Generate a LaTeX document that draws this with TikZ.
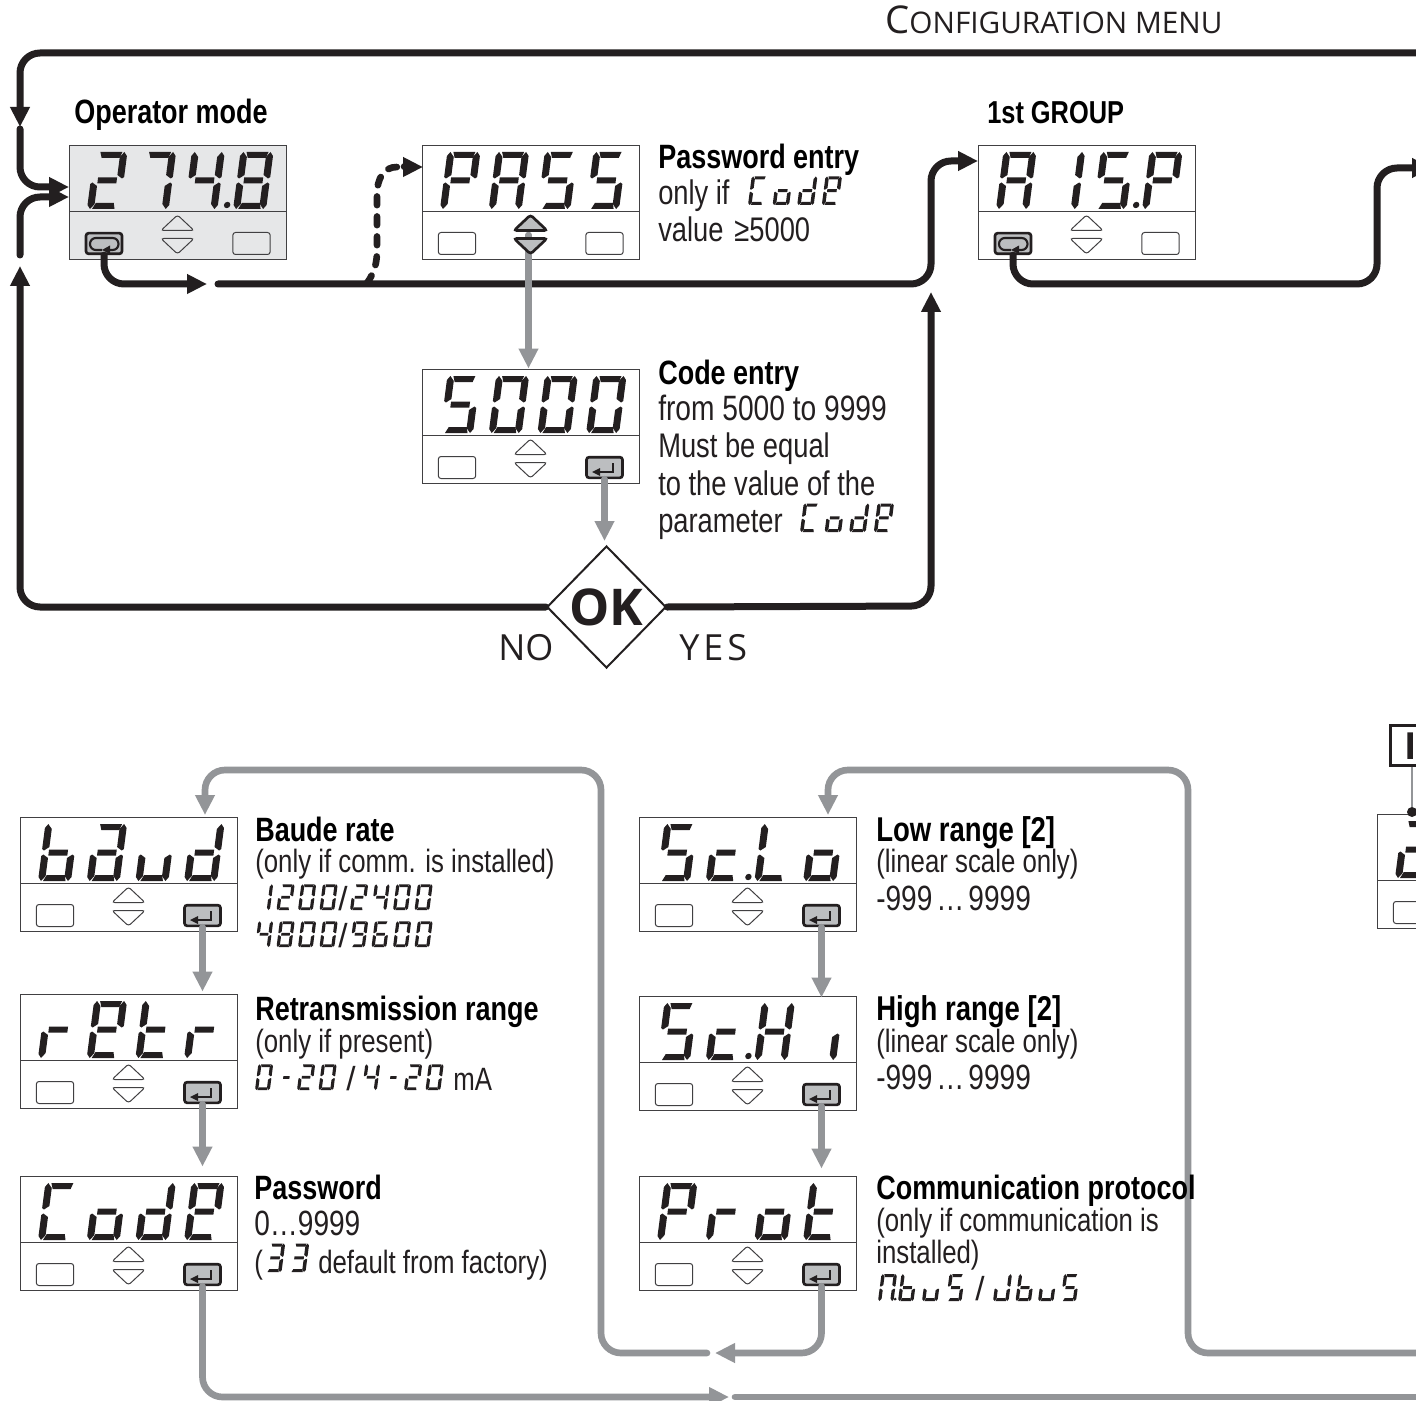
\documentclass[tikz,border=0pt]{standalone}
\usepackage{fontspec}
\setmainfont[FakeStretch=0.8]{Liberation Sans}
\newfontfamily\plainface{Liberation Sans}
\newfontfamily\wideface{Open Sans}
\usetikzlibrary{arrows.meta,shapes.geometric,calc}
\definecolor{lcdgrey}{HTML}{E6E7E8}
\definecolor{keygrey}{HTML}{BCBEC0}
\definecolor{flowgrey}{HTML}{939598}
\definecolor{ink}{HTML}{231F20}
\definecolor{edge}{HTML}{414042}
\def\lcdsega{(6,-57)--(28,-57)--(26,-51)--(8,-51)--cycle}
\def\lcdsegd{(5,0)--(27.5,0)--(26,-6)--(8,-6)--cycle}
\def\lcdsegg{(7,-25.5)--(26,-25.5)--(26,-31.5)--(7,-31.5)--cycle}
\def\lcdsegh{(8,-25)--(22,-25)--(22,-31)--(8,-31)--cycle}
\def\lcdsegf{(0,-32)--(0,-53)--(3,-57)--(7,-52)--(7,-34)--(2,-30.5)--cycle}
\def\lcdsegb{(33,-32)--(33,-53)--(30,-57)--(26,-52)--(26,-34)--(31,-30.5)--cycle}
\def\lcdsege{(0,-25)--(0,-4)--(3,0)--(7,-5)--(7,-23)--(2,-26.5)--cycle}
\def\lcdsegc{(33,-25)--(33,-4)--(30,0)--(26,-5)--(26,-23)--(31,-26.5)--cycle}
\def\lcdsegp{(-6.5,-4) circle (3.2)}
\makeatletter
\newcommand\lcdsegs[1]{\@tfor\lcds:=#1\do{\expandafter\fill\csname lcdseg\lcds\endcsname;}}
\makeatother
% row of equally spaced glyphs: x, y (bottom line), scale, pitch, glyphs
\newcommand\lcdrow[5]{%
  \foreach \g [count=\i from 0] in {#5}{%
    \begin{scope}[shift={(#1+\i*#4,#2)},xslant=.13,scale=#3,ink]
      \expandafter\lcdsegs\expandafter{\g}
    \end{scope}}}
\newcommand\keyarrows[5]{%
  \draw[fill=#3,draw=#4,line width=#5,rounded corners=2pt]
    (#1+92,#2+85.5) -- (#1+108.5,#2+70) -- (#1+125,#2+85.5) -- cycle;
  \draw[fill=#3,draw=#4,line width=#5,rounded corners=2pt]
    (#1+92,#2+93.5) -- (#1+108.5,#2+109) -- (#1+125,#2+93.5) -- cycle;}
% panel: name, x, y, background, left key (0/1), arrows pressed (0/1), right key (0/1)
\newcommand\panel[7]{%
  \node[panelbox,fill=#4] (#1) at (#2+108.5,#3+57) {};
  \draw[edge,line width=.7pt] (#2,#3+66.5) -- (#2+217,#3+66.5);
  \ifnum#5=1
    \node[keyon] (#1-l) at (#2+35,#3+98.5) {};
    \draw[ink,line width=1.6pt,rounded corners=4.4pt] (#2+33,#3+105) -- (#2+21,#3+105) -- (#2+21,#3+93) -- (#2+49.5,#3+93) -- (#2+49.5,#3+105) -- (#2+39,#3+105);
    \fill[ink] (#2+33,#3+105) -- (#2+41,#3+100.5) -- (#2+41,#3+109) -- cycle;
  \else
    \node[keyoff] (#1-l) at (#2+35,#3+98.5) {};
  \fi
  \ifnum#7=1
    \node[keyon] (#1-r) at (#2+182.5,#3+98.5) {};
    \draw[ink,line width=1.75pt] (#2+191,#3+94) -- (#2+191,#3+103) -- (#2+176,#3+103);
    \fill[ink] (#2+170,#3+103) -- (#2+178,#3+99) -- (#2+178,#3+107) -- cycle;
  \else
    \node[keyoff] (#1-r) at (#2+182.5,#3+98.5) {};
  \fi
  \coordinate (#1-k) at (#2+108.5,#3+90);
  \ifnum#6=0
    \keyarrows{#2}{#3}{#4}{edge}{0.75pt}
  \fi}
\newcommand\lab[5]{\node[#4,anchor=base west,inner sep=0pt] (#1) at (#2,#3) {#5};}
\tikzset{
  x=0.75pt,y=-0.75pt,
  panelbox/.style={draw=edge,line width=.7pt,minimum width=162.75pt,minimum height=85.5pt,inner sep=0pt},
  keyoff/.style={draw=edge,line width=.75pt,rounded corners=2pt,minimum width=28pt,minimum height=16.5pt,inner sep=0pt},
  keyon/.style={draw=ink,fill=keygrey,line width=2pt,rounded corners=2pt,minimum width=27pt,minimum height=15.5pt,inner sep=0pt},
  blk/.style={draw=ink,line width=5.25pt,line cap=round,rounded corners=15pt},
  gry/.style={draw=flowgrey,line width=5pt,line cap=round,rounded corners=15pt},
  tip/.style={-{Triangle[length=15pt,width=14pt]}},
  bodyhi/.style={font=\fontsize{25.6}{28}\selectfont,text=ink},
  body/.style={font=\fontsize{24.2}{27}\selectfont,text=ink},
  nums/.style={font=\fontsize{26.3}{28}\selectfont,text=ink},
  head/.style={font=\fontsize{25.3}{28}\selectfont\bfseries,text=black},
  wide/.style={font=\fontsize{28.7}{30}\selectfont\wideface,text=ink},
  slashmark/.style={font=\fontsize{25}{28}\selectfont\plainface,text=ink},
}
\begin{document}
\begin{tikzpicture}
\clip (0,0) rectangle (1416,1401);
\fill[white] (0,0) rectangle (1416,1401);

% panels
\panel{op}{69}{145}{lcdgrey}{1}{0}{0}
\panel{pass}{422}{145}{white}{0}{1}{0}
\panel{code}{422}{369}{white}{0}{0}{1}
\panel{aisp}{978}{145}{white}{1}{0}{0}
\panel{baud}{20}{817}{white}{0}{0}{1}
\panel{retr}{20}{994}{white}{0}{0}{1}
\panel{pwd}{20}{1176}{white}{0}{0}{1}
\panel{sclo}{639}{817}{white}{0}{0}{1}
\panel{schi}{639}{996}{white}{0}{0}{1}
\panel{prot}{639}{1176}{white}{0}{0}{1}
\panel{clip}{1377}{814}{white}{0}{0}{0}

% display glyphs
\lcdrow{87}{209}{1}{48.7}{abged,abc,fgbc,abcdefgp}
\lcdrow{440}{209}{1}{48.7}{abefg,abcefg,afgcd,afgcd}
\lcdrow{440}{433}{1}{48.7}{afgcd,abcdef,abcdef,abcdef}
\lcdrow{996}{209}{1}{48.7}{abcefg,bc,afgcd,abefgp}
\lcdrow{38}{881}{1}{48.7}{cdefg,abcdeg,cde,bcdeg}
\lcdrow{38}{1058}{1}{48.7}{eg,abdefg,defg,eg}
\lcdrow{38}{1240}{1}{48.7}{adef,cdeg,bcdeg,abdefg}
\lcdrow{657}{881}{1}{48.7}{afgcd,deg,defp,cdeg}
\lcdrow{657}{1060}{1}{48.7}{afgcd,deg,bcefgp,c}
\lcdrow{657}{1240}{1}{48.7}{abefg,eg,cdeg,defg}
\lcdrow{1395}{878}{1}{48.7}{abged}

% connectors
\coordinate (topR) at (1430,53);
\coordinate (topL) at (20,53);
\coordinate (topS) at (20,127);
\coordinate (topB) at (20,129);
\coordinate (opIn1) at (69,187);
\coordinate (retS) at (20,255);
\coordinate (opIn2) at (69,197);
\coordinate (noUp) at (20,266);
\coordinate (noC) at (20,607);
\coordinate (gapA) at (207,284);
\coordinate (gapB) at (218,284);
\coordinate (bend1) at (931,284);
\coordinate (aispIn) at (978,161);
\coordinate (yesC) at (931,606);
\coordinate (yesT) at (931,292);
\coordinate (aispBend) at (1377,284);
\coordinate (rightOut) at (1432,168);
\coordinate (dashS) at (367,283);
\coordinate (dashA) at (377,250);
\coordinate (dashB) at (377,195);
\coordinate (dashE) at (397,167);
\coordinate (dashH) at (406,167);
\coordinate (passIn) at (423,167);

\node[diamond,draw=ink,line width=1.5pt,shape aspect=1,minimum width=89.5pt,minimum height=91.5pt,inner sep=0pt,font=\fontsize{38}{40}\selectfont\wideface\bfseries,text=ink] (ok) at (606.5,607) {OK};

\draw[blk,tip] (topR) -- (topL) -- (topS);
\draw[blk,tip] (topB) |- (opIn1);
\draw[blk,tip] (retS) |- (opIn2);
\draw[blk,tip] (ok.west) -- (noC) -- (noUp);
\draw[blk,tip] (ok.east) -- (yesC) -- (yesT);
\draw[blk,tip] (op-l.south) |- (gapA);
\draw[blk,tip] (gapB) -- (bend1) |- (aispIn);
\draw[blk,tip] (aisp-l.south) |- (aispBend) |- (rightOut);
\draw[draw=ink,line width=5pt,line cap=round,dash pattern=on 6.5pt off 8.5pt]
  (dashS) .. controls (375,272) and (377,262) .. (dashA) -- (dashB) .. controls (377,178) and (384,167) .. (dashE);
\draw[blk,tip] (dashH) -- (passIn);

\draw[gry,tip,rounded corners=0pt] ([xshift=-1.5pt]pass-k) -- ([xshift=-1.5pt]pass-k |- code.north);
\keyarrows{422}{145}{keygrey}{ink}{2pt}
\draw[gry,tip] (code-r.south) -- ([yshift=3pt]ok.north -| code-r.south);
\draw[gry,tip] (baud-r.south) -- ([yshift=1.5pt]retr.north -| baud-r.south);
\draw[gry,tip] (retr-r.south) -- ([yshift=6.75pt]pwd.north -| retr-r.south);
\draw[gry,tip] (sclo-r.south) -- ([yshift=-1.5pt]schi.north -| sclo-r.south);
\draw[gry,tip] (schi-r.south) -- ([yshift=5.25pt]prot.north -| schi-r.south);

\coordinate (l1E) at (707,1353);
\coordinate (l1C) at (601,1353);
\coordinate (l1T) at (601,770);
\coordinate (l1A) at (205,770);
\coordinate (l1H) at (205,815);
\coordinate (p1T) at (715,1353);
\coordinate (l2R) at (1430,1353);
\coordinate (l2C) at (1188,1353);
\coordinate (l2T) at (1188,770);
\coordinate (l2A) at (828,770);
\coordinate (l2H) at (828,815);
\coordinate (b1T) at (729,1397);
\coordinate (b2S) at (735,1397);
\coordinate (b2R) at (1430,1397);
\draw[gry,tip] (l1E) -- (l1C) -- (l1T) -- (l1A) -- (l1H);
\draw[gry,tip] (l2R) -- (l2C) -- (l2T) -- (l2A) -- (l2H);
\draw[gry,tip] (prot-r.south) |- (p1T);
\draw[gry,tip] (pwd-r.south) |- (b1T);
\draw[gry] (b2S) -- (b2R);

% clipped box at the right edge
\node[draw=ink,line width=2.25pt,minimum width=46pt,minimum height=30.5pt,inner sep=0pt,fill=white] (ibox) at (1421,745.5) {};
\node[circle,fill=ink,minimum size=7.5pt,inner sep=0pt] (idot) at (1412,812) {};
\draw[flowgrey,line width=1.5pt] (ibox.south -| idot) -- (idot);
\node[font=\fontsize{28}{30}\selectfont\bfseries\wideface,text=ink,inner sep=0pt,anchor=base] (iletter) at (1411,759) {I};

% captions
\node[wide,anchor=base west,inner sep=0pt] (title) at (885,34) {C{\fontsize{22.3}{24}\selectfont ONFIGURATION MENU}};
\lab{tOp}{74}{124}{head}{Operator mode}
\lab{tGroup}{987}{124}{head,font=\fontsize{23.8}{28}\selectfont\bfseries}{1st GROUP}
\lab{tPw}{658}{169}{head}{Password entry}
\lab{tPwA}{658}{205}{bodyhi}{only if}
\lab{tPwB}{658}{242}{bodyhi}{value\kern2.5pt{} ≥5000}
\lcdrow{748}{205}{.5}{24.6}{adef,cdeg,bcdeg,abdefg}
\lab{tCe}{658}{384}{head}{Code entry}
\lab{tCeA}{658}{420}{bodyhi,font=\fontsize{26.4}{28}\selectfont}{from 5000 to 9999}
\lab{tCeB}{658}{457}{bodyhi}{Must be equal}
\lab{tCeC}{658}{495}{bodyhi}{to the value of the}
\lab{tCeD}{658}{532}{bodyhi}{parameter}
\lcdrow{800}{532}{.5}{24.6}{adef,cdeg,bcdeg,abdefg}
\lab{tBd}{255}{841}{head}{Baude rate}
\lab{tBdA}{255}{872}{body}{(only if comm. is installed)}
\lcdrow{255}{910}{.45}{21.5}{bc,abged,abcdef,abcdef}
\lab{tBdS}{338}{910}{slashmark}{/}
\lcdrow{350}{910}{.45}{21.5}{abged,fgbc,abcdef,abcdef}
\lcdrow{255}{947}{.45}{21.5}{fgbc,abcdefg,abcdef,abcdef}
\lab{tBdT}{338}{947}{slashmark}{/}
\lcdrow{350}{947}{.45}{21.5}{abcdfg,acdefg,abcdef,abcdef}
\lab{tRt}{255}{1020}{head}{Retransmission range}
\lab{tRtA}{255}{1052}{body}{(only if present)}
\lcdrow{255}{1090}{.45}{21.5}{abcdef}
\lcdrow{278}{1090}{.45}{21.5}{h}
\lcdrow{297}{1090}{.45}{21.5}{abged,abcdef}
\lab{tRtS}{346}{1090}{slashmark}{/}
\lcdrow{362}{1090}{.45}{21.5}{fgbc}
\lcdrow{385}{1090}{.45}{21.5}{h}
\lcdrow{404}{1090}{.45}{21.5}{abged,abcdef}
\lab{tRtM}{453}{1090}{body}{mA}
\lab{tPd}{254}{1199}{head}{Password}
\lab{tPdA}{254}{1235}{nums}{0…9999}
\lab{tPdB}{254}{1273}{body}{(}
\lcdrow{265}{1272}{.5}{24}{abcdg,abcdg}
\lab{tPdC}{318}{1273}{body}{default from factory)}
\lab{tLo}{876}{841}{head,font=\fontsize{25.8}{28}\selectfont\bfseries}{Low range [2]}
\lab{tLoA}{876}{872}{body}{(linear scale only)}
\lab{tLoB}{876}{910}{nums}{-999\kern3pt…\kern3pt 9999}
\lab{tHi}{876}{1020}{head,font=\fontsize{25.8}{28}\selectfont\bfseries}{High range [2]}
\lab{tHiA}{876}{1052}{body}{(linear scale only)}
\lab{tHiB}{876}{1089}{nums}{-999\kern3pt…\kern3pt 9999}
\lab{tCp}{876}{1199}{head}{Communication protocol}
\lab{tCpA}{876}{1231}{body}{(only if communication is}
\lab{tCpB}{876}{1263}{body}{installed)}
\lcdrow{878}{1301}{.47}{21}{abcef}
\lcdrow{898}{1301}{.47}{24}{cdefgp,cde,afgcd}
\lab{tCpS}{975}{1300}{slashmark}{/}
\lcdrow{993}{1301}{.47}{22.5}{bcde,cdefg,cde,afgcd}
\node[font=\fontsize{27}{30}\selectfont\wideface,text=ink,anchor=base west,inner sep=0pt] (no) at (498,660) {NO};
\node[font=\fontsize{27}{30}\selectfont\wideface,text=ink,anchor=base west,inner sep=0pt] (yes) at (679,660) {Y\kern3pt E\kern3pt S};
\end{tikzpicture}
\end{document}
